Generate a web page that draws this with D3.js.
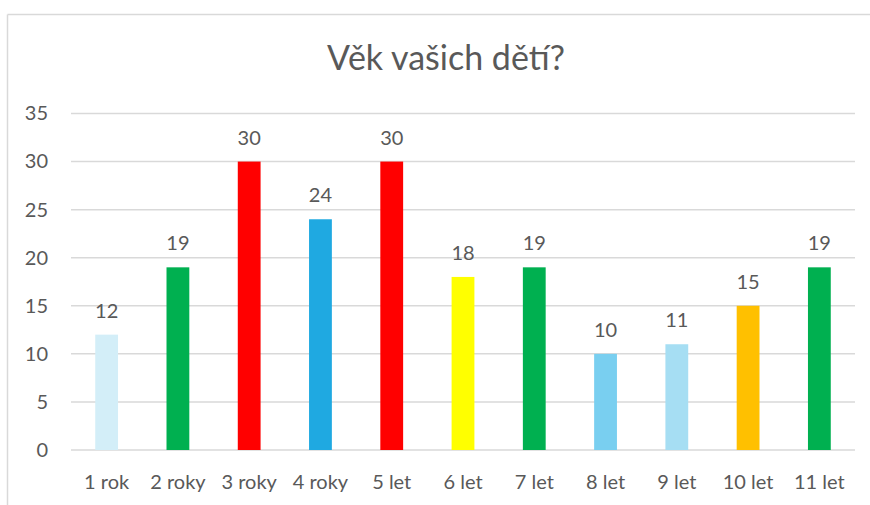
<!DOCTYPE html>
<html>
<head>
<meta charset="utf-8">
<script src="https://cdn.jsdelivr.net/npm/d3@7"></script>
<style>
  html, body { margin: 0; padding: 0; background: #fff; }
  svg { display: block; }
  text { font-family: Lato, "Open Sans", sans-serif; fill: #595959; }
</style>
</head>
<body>
<svg id="chart" width="870" height="505"></svg>
<script>
const title = "Věk vašich dětí?";
const categories = ["1 rok", "2 roky", "3 roky", "4 roky", "5 let", "6 let", "7 let", "8 let", "9 let", "10 let", "11 let"];
const values = [12, 19, 30, 24, 30, 18, 19, 10, 11, 15, 19];
const barColors = ["#D3EEF8", "#00B050", "#FF0000", "#1FA9E1", "#FF0000", "#FFFF00", "#00B050", "#79CFF0", "#A6DEF3", "#FFC000", "#00B050"];
const yTicks = [0, 5, 10, 15, 20, 25, 30, 35];

const svg = d3.select("#chart");
const W = 870, H = 505;

// chart area border (top and left visible)
svg.append("line").attr("x1", 7.5).attr("x2", W).attr("y1", 14.5).attr("y2", 14.5)
  .attr("stroke", "#D9D9D9").attr("stroke-width", 1.5);
svg.append("line").attr("x1", 7.5).attr("x2", 7.5).attr("y1", 14.5).attr("y2", H)
  .attr("stroke", "#D9D9D9").attr("stroke-width", 1.5);

const plot = { left: 71, right: 855, top: 113.5, bottom: 450 };

const x = d3.scaleBand().domain(categories).range([plot.left, plot.right]).paddingInner(0.68).paddingOuter(0.34);
const y = d3.scaleLinear().domain([0, 35]).range([plot.bottom, plot.top]);

// title
svg.append("text").attr("x", 446).attr("y", 70).attr("text-anchor", "middle")
  .style("font-size", "34px").text(title);

// gridlines
svg.append("g").selectAll("line").data(yTicks).join("line")
  .attr("x1", plot.left).attr("x2", plot.right)
  .attr("y1", d => y(d)).attr("y2", d => y(d))
  .attr("stroke", "#D9D9D9").attr("stroke-width", 1.5);

// y axis labels
const yAxis = d3.axisLeft(y).tickValues(yTicks).tickSize(0).tickPadding(0);
const gy = svg.append("g").attr("transform", `translate(48,0)`).call(yAxis);
gy.select(".domain").remove();
gy.selectAll("text").style("font-size", "20px").style("font-family", "Lato, sans-serif").attr("fill", "#595959");

// bars
svg.append("g").selectAll("rect").data(values).join("rect")
  .attr("x", (d, i) => x(categories[i]))
  .attr("width", x.bandwidth())
  .attr("y", d => y(d))
  .attr("height", d => y(0) - y(d))
  .attr("fill", (d, i) => barColors[i]);

// value labels
svg.append("g").selectAll("text").data(values).join("text")
  .attr("x", (d, i) => x(categories[i]) + x.bandwidth() / 2)
  .attr("y", d => y(d) - 17)
  .attr("text-anchor", "middle")
  .style("font-size", "20px")
  .text(d => d);

// x axis labels
const xAxis = d3.axisBottom(x).tickSize(0).tickPadding(0);
const gx = svg.append("g").attr("transform", `translate(0,${plot.bottom})`).call(xAxis);
gx.select(".domain").remove();
gx.selectAll("text").attr("dy", null).attr("y", 39).style("font-size", "20px")
  .style("font-family", "Lato, sans-serif").attr("fill", "#595959");
</script>
</body>
</html>
